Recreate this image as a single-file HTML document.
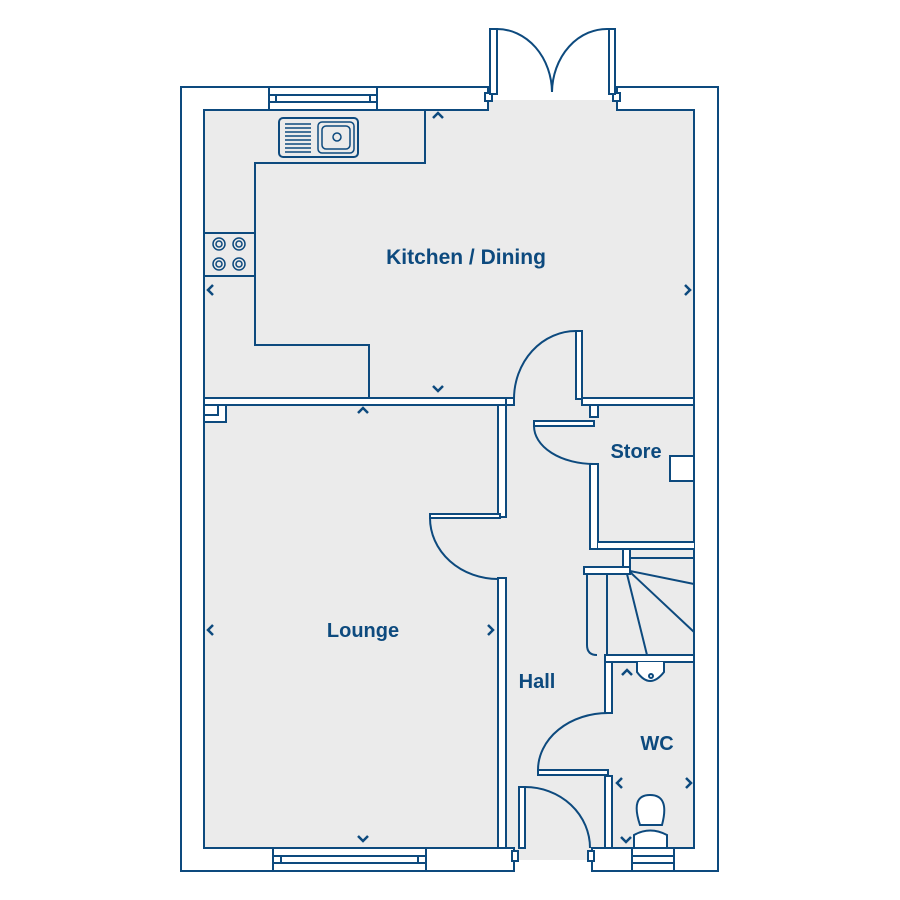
<!DOCTYPE html>
<html><head><meta charset="utf-8"><style>
html,body{margin:0;padding:0;background:#fff;}
svg{display:block}
text{font-family:"Liberation Sans",sans-serif;font-weight:bold;fill:#0d4a7e}
</style></head><body>
<svg width="900" height="900" viewBox="0 0 900 900" xmlns="http://www.w3.org/2000/svg">
<g stroke="#0d4a7e" stroke-width="2" fill="none">
<rect x="181" y="87" width="537" height="784" fill="#fff"/>
<rect x="204" y="110" width="490" height="738" fill="#ebebeb"/>
<rect x="489" y="86" width="127" height="14" fill="#fff" stroke="none"/>
<rect x="489" y="100" width="127" height="12" fill="#ebebeb" stroke="none"/>
<path d="M488 87V110H204M617 87V110"/>
<rect x="485" y="93" width="7" height="8" fill="#fff"/>
<rect x="613" y="93" width="7" height="8" fill="#fff"/>
<rect x="490" y="29" width="7" height="65" fill="#fff"/>
<rect x="609" y="29" width="6" height="65" fill="#fff"/>
<path d="M497 29A55 64 0 0 1 552 92"/>
<path d="M609 29A55 64 0 0 0 552 92"/>
<rect x="269" y="87" width="108" height="23" fill="#fff"/>
<rect x="269" y="95" width="108" height="7"/>
<path d="M276 95V102M370 95V102"/>
<path d="M425 110V163H255V345H369V398" />
<path d="M204 233H255M204 276H255"/>
<rect x="279" y="118" width="79" height="39" rx="4"/>
<rect x="318" y="122" width="36" height="31" rx="4" stroke-width="1.5"/>
<rect x="322" y="126" width="28" height="23" rx="4" stroke-width="1.5"/>
<circle cx="337" cy="137" r="4" stroke-width="1.5"/>
<path d="M285 124H311M285 128H311M285 132H311M285 136H311M285 140H311M285 144H311M285 148H311M285 152H311" stroke-width="1.5"/>
<g stroke-width="1.5">
<circle cx="219" cy="244" r="6"/><circle cx="219" cy="244" r="3"/>
<circle cx="239" cy="244" r="6"/><circle cx="239" cy="244" r="3"/>
<circle cx="219" cy="264" r="6"/><circle cx="219" cy="264" r="3"/>
<circle cx="239" cy="264" r="6"/><circle cx="239" cy="264" r="3"/>
</g>
<rect x="204" y="398" width="302" height="7" fill="#fff"/>
<rect x="204" y="405" width="22" height="17" fill="#fff"/>
<path d="M204 415H218V405"/>
<rect x="498" y="405" width="8" height="112" fill="#fff"/>
<rect x="498" y="578" width="8" height="270" fill="#fff"/>
<rect x="430" y="514" width="70" height="4" fill="#fff"/>
<path d="M430 518A68 61 0 0 0 498 579"/>
<rect x="506" y="398" width="8" height="7" fill="#fff"/>
<rect x="576" y="331" width="6" height="68" fill="#fff"/>
<path d="M576 331A62 68 0 0 0 514 399"/>
<rect x="582" y="398" width="112" height="7" fill="#fff"/>
<rect x="590" y="405" width="8" height="12" fill="#fff"/>
<rect x="534" y="421" width="60" height="5" fill="#fff"/>
<path d="M534 426A60 38 0 0 0 594 464"/>
<rect x="590" y="464" width="8" height="85" fill="#fff"/>
<rect x="598" y="542" width="96" height="7" fill="#fff" stroke="none"/>
<path d="M598 542H694M590 549H694"/>
<rect x="670" y="456" width="24" height="25" fill="#fff"/>
<rect x="623" y="549" width="7" height="20" fill="#fff"/>
<rect x="584" y="567" width="46" height="7" fill="#fff"/>
<path d="M630 558H694M630 571L694 584M630 572L694 632M627 574L647 655M607 574V655M587 574V645Q587 655 597 655"/>
<rect x="605" y="655" width="89" height="7" fill="#fff"/>
<rect x="605" y="662" width="7" height="51" fill="#fff"/>
<rect x="605" y="776" width="7" height="72" fill="#fff"/>
<rect x="538" y="770" width="70" height="5" fill="#fff"/>
<path d="M538 770A70 57 0 0 1 608 713"/>
<path d="M637 662V672Q650 690 664 672V662" fill="#fff"/>
<circle cx="651" cy="676" r="2"/>
<path d="M640 825Q630 795 650 795Q670 795 662 825Z" fill="#fff"/>
<path d="M634 848V835Q650 826 667 835V848" fill="#fff"/>
<rect x="515" y="846" width="76" height="26" fill="#fff" stroke="none"/>
<rect x="515" y="846" width="76" height="14" fill="#ebebeb" stroke="none"/>
<path d="M506 848H514V871M592 871V848H605"/>
<rect x="512" y="851" width="6" height="10" fill="#fff"/>
<rect x="588" y="851" width="6" height="10" fill="#fff"/>
<rect x="519" y="787" width="6" height="61" fill="#fff"/>
<path d="M525 787A65 61 0 0 1 590 848"/>
<rect x="273" y="848" width="153" height="23" fill="#fff"/>
<rect x="273" y="856" width="153" height="7"/>
<path d="M281 856V863M418 856V863"/>
<rect x="632" y="848" width="42" height="23" fill="#fff"/>
<rect x="632" y="856" width="42" height="7"/>
<g stroke-width="2.5">
<path d="M433 118L438 113L443 118"/>
<path d="M433 386L438 391L443 386"/>
<path d="M358 413L363 408L368 413"/>
<path d="M358 836L363 841L368 836"/>
<path d="M213 285L208 290L213 295"/>
<path d="M685 285L690 290L685 295"/>
<path d="M213 625L208 630L213 635"/>
<path d="M488 625L493 630L488 635"/>
<path d="M622 675L627 670L632 675"/>
<path d="M622 778L617 783L622 788"/>
<path d="M686 778L691 783L686 788"/>
<path d="M621 837L626 842L631 837"/>
</g>
</g>
<text x="466" y="264" font-size="21" text-anchor="middle">Kitchen / Dining</text>
<text x="363" y="637" font-size="20" text-anchor="middle">Lounge</text>
<text x="636" y="458" font-size="20" text-anchor="middle">Store</text>
<text x="537" y="688" font-size="20" text-anchor="middle">Hall</text>
<text x="657" y="750" font-size="20" text-anchor="middle">WC</text>
</svg>
</body></html>
